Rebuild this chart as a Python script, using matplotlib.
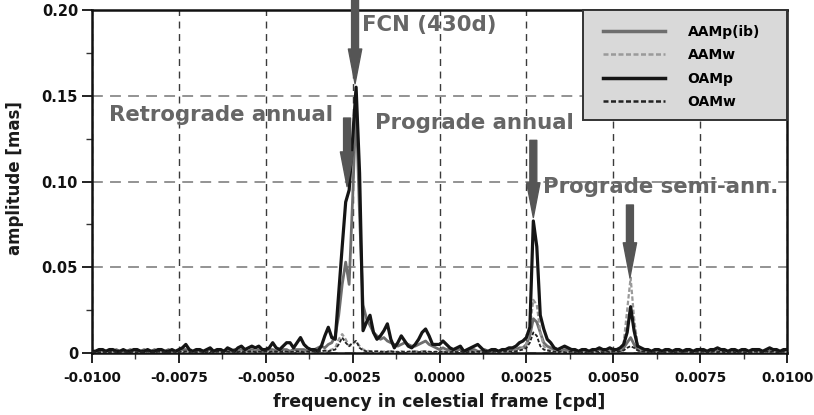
import numpy as np
import matplotlib
matplotlib.use("Agg")
import matplotlib.pyplot as plt
from matplotlib.ticker import MultipleLocator, FuncFormatter
from matplotlib.patches import Rectangle

plt.rcParams['font.family'] = ['DejaVu Sans']
plt.rcParams['font.weight'] = 'bold'
plt.rcParams['axes.unicode_minus'] = False

# frequency grid [cpd]
freq_start = -0.0100
freq_step = 0.0001
n_points = 201

OAMp = [
    0.001, 0.001, 0.002, 0.002, 0.001, 0.002, 0.002, 0.001, 0.001, 0.002,
    0.001, 0.001, 0.002, 0.002, 0.001, 0.001, 0.002, 0.001, 0.001, 0.002,
    0.002, 0.001, 0.001, 0.002, 0.001, 0.002, 0.003, 0.005, 0.002, 0.001,
    0.002, 0.002, 0.001, 0.002, 0.003, 0.001, 0.002, 0.002, 0.001, 0.003,
    0.002, 0.001, 0.003, 0.004, 0.002, 0.003, 0.004, 0.003, 0.004, 0.002,
    0.002, 0.003, 0.006, 0.003, 0.002, 0.004, 0.006, 0.006, 0.003, 0.006,
    0.009, 0.005, 0.003, 0.002, 0.002, 0.001, 0.004, 0.010, 0.015, 0.009,
    0.008, 0.035, 0.062, 0.088, 0.095, 0.125, 0.155, 0.105, 0.013, 0.018,
    0.022, 0.012, 0.008, 0.010, 0.013, 0.017, 0.008, 0.003, 0.006, 0.010,
    0.007, 0.004, 0.003, 0.005, 0.008, 0.012, 0.014, 0.010, 0.005, 0.005,
    0.005, 0.007, 0.005, 0.003, 0.002, 0.003, 0.004, 0.001, 0.002, 0.003,
    0.004, 0.005, 0.003, 0.001, 0.001, 0.002, 0.002, 0.001, 0.002, 0.002,
    0.003, 0.003, 0.004, 0.006, 0.007, 0.009, 0.015, 0.077, 0.062, 0.022,
    0.014, 0.008, 0.006, 0.003, 0.002, 0.003, 0.004, 0.003, 0.002, 0.002,
    0.001, 0.002, 0.002, 0.001, 0.002, 0.002, 0.003, 0.002, 0.002, 0.003,
    0.002, 0.002, 0.003, 0.005, 0.012, 0.027, 0.013, 0.004, 0.003, 0.002,
    0.002, 0.001, 0.002, 0.002, 0.001, 0.002, 0.002, 0.001, 0.002, 0.002,
    0.001, 0.002, 0.002, 0.001, 0.002, 0.002, 0.002, 0.001, 0.002, 0.002,
    0.003, 0.002, 0.002, 0.001, 0.002, 0.002, 0.001, 0.002, 0.002, 0.001,
    0.002, 0.002, 0.002, 0.001, 0.002, 0.003, 0.002, 0.002, 0.001, 0.002,
    0.002,
]

AAMp_ib = [
    0.001, 0.001, 0.001, 0.002, 0.001, 0.001, 0.001, 0.002, 0.001, 0.001,
    0.001, 0.002, 0.001, 0.001, 0.001, 0.002, 0.001, 0.001, 0.002, 0.001,
    0.001, 0.001, 0.002, 0.001, 0.001, 0.001, 0.002, 0.002, 0.001, 0.001,
    0.001, 0.002, 0.001, 0.001, 0.002, 0.001, 0.001, 0.002, 0.001, 0.001,
    0.001, 0.002, 0.001, 0.002, 0.001, 0.001, 0.002, 0.001, 0.002, 0.001,
    0.001, 0.002, 0.002, 0.001, 0.001, 0.002, 0.002, 0.001, 0.002, 0.002,
    0.002, 0.002, 0.001, 0.002, 0.002, 0.003, 0.004, 0.003, 0.005, 0.006,
    0.010, 0.022, 0.040, 0.053, 0.040, 0.090, 0.145, 0.080, 0.028, 0.020,
    0.016, 0.012, 0.010, 0.008, 0.009, 0.007, 0.006, 0.005, 0.004, 0.005,
    0.006, 0.005, 0.004, 0.004, 0.005, 0.006, 0.007, 0.005, 0.004, 0.003,
    0.002, 0.003, 0.002, 0.002, 0.001, 0.002, 0.002, 0.001, 0.001, 0.002,
    0.002, 0.001, 0.001, 0.002, 0.001, 0.001, 0.002, 0.001, 0.001, 0.002,
    0.002, 0.002, 0.002, 0.003, 0.003, 0.005, 0.010, 0.020, 0.018, 0.012,
    0.006, 0.004, 0.003, 0.002, 0.002, 0.001, 0.002, 0.002, 0.001, 0.001,
    0.001, 0.001, 0.002, 0.001, 0.001, 0.001, 0.002, 0.001, 0.001, 0.001,
    0.001, 0.002, 0.001, 0.003, 0.006, 0.009, 0.005, 0.002, 0.001, 0.001,
    0.001, 0.001, 0.001, 0.002, 0.001, 0.001, 0.001, 0.001, 0.001, 0.001,
    0.001, 0.001, 0.001, 0.001, 0.001, 0.001, 0.001, 0.001, 0.001, 0.001,
    0.001, 0.001, 0.001, 0.001, 0.001, 0.001, 0.001, 0.001, 0.001, 0.001,
    0.001, 0.001, 0.001, 0.001, 0.001, 0.001, 0.001, 0.001, 0.001, 0.001,
    0.001,
]

AAMw = [
    0.0005, 0.0005, 0.0008, 0.0005, 0.0005, 0.0008, 0.0005, 0.0005, 0.0008, 0.0005,
    0.0005, 0.0008, 0.0005, 0.0005, 0.0008, 0.0005, 0.0005, 0.0008, 0.0005, 0.0005,
    0.0008, 0.0005, 0.0005, 0.0008, 0.0005, 0.0005, 0.0008, 0.0010, 0.0005, 0.0005,
    0.0008, 0.0005, 0.0005, 0.0008, 0.0005, 0.0005, 0.0008, 0.0005, 0.0005, 0.0008,
    0.0005, 0.0008, 0.0005, 0.0010, 0.0005, 0.0008, 0.0010, 0.0005, 0.0008, 0.0005,
    0.0005, 0.0008, 0.0010, 0.0005, 0.0008, 0.0010, 0.0008, 0.0005, 0.0010, 0.0008,
    0.0010, 0.0008, 0.0005, 0.0008, 0.0010, 0.0010, 0.0015, 0.0010, 0.0015, 0.0020,
    0.0030, 0.0080, 0.0110, 0.0080, 0.0040, 0.0050, 0.0070, 0.0040, 0.0020, 0.0015,
    0.0010, 0.0010, 0.0008, 0.0010, 0.0008, 0.0010, 0.0008, 0.0005, 0.0008, 0.0010,
    0.0008, 0.0005, 0.0008, 0.0010, 0.0008, 0.0010, 0.0008, 0.0005, 0.0008, 0.0005,
    0.0005, 0.0008, 0.0005, 0.0005, 0.0008, 0.0005, 0.0005, 0.0008, 0.0005, 0.0005,
    0.0008, 0.0005, 0.0005, 0.0008, 0.0005, 0.0005, 0.0008, 0.0005, 0.0008, 0.0010,
    0.0010, 0.0010, 0.0015, 0.0020, 0.0030, 0.0050, 0.0150, 0.0310, 0.0280, 0.0120,
    0.0040, 0.0020, 0.0015, 0.0010, 0.0008, 0.0005, 0.0008, 0.0005, 0.0005, 0.0008,
    0.0005, 0.0005, 0.0008, 0.0005, 0.0005, 0.0008, 0.0005, 0.0008, 0.0005, 0.0010,
    0.0010, 0.0010, 0.0015, 0.0060, 0.0250, 0.0440, 0.0200, 0.0050, 0.0015, 0.0010,
    0.0008, 0.0005, 0.0005, 0.0008, 0.0005, 0.0005, 0.0008, 0.0005, 0.0005, 0.0008,
    0.0005, 0.0005, 0.0008, 0.0005, 0.0005, 0.0008, 0.0005, 0.0005, 0.0008, 0.0005,
    0.0005, 0.0008, 0.0005, 0.0005, 0.0008, 0.0005, 0.0005, 0.0008, 0.0005, 0.0005,
    0.0008, 0.0005, 0.0005, 0.0008, 0.0005, 0.0005, 0.0008, 0.0005, 0.0005, 0.0008,
    0.0005,
]

OAMw = [
    0.0005, 0.0008, 0.0005, 0.0005, 0.0008, 0.0005, 0.0008, 0.0005, 0.0005, 0.0008,
    0.0005, 0.0008, 0.0005, 0.0005, 0.0008, 0.0005, 0.0008, 0.0005, 0.0005, 0.0008,
    0.0005, 0.0008, 0.0005, 0.0005, 0.0008, 0.0005, 0.0008, 0.0010, 0.0005, 0.0008,
    0.0005, 0.0008, 0.0005, 0.0005, 0.0008, 0.0005, 0.0008, 0.0005, 0.0005, 0.0008,
    0.0005, 0.0008, 0.0005, 0.0010, 0.0005, 0.0008, 0.0010, 0.0005, 0.0008, 0.0005,
    0.0008, 0.0005, 0.0010, 0.0008, 0.0005, 0.0010, 0.0008, 0.0005, 0.0008, 0.0010,
    0.0008, 0.0005, 0.0008, 0.0010, 0.0008, 0.0010, 0.0010, 0.0015, 0.0010, 0.0015,
    0.0020, 0.0050, 0.0090, 0.0060, 0.0040, 0.0060, 0.0070, 0.0030, 0.0015, 0.0010,
    0.0010, 0.0008, 0.0010, 0.0008, 0.0005, 0.0008, 0.0010, 0.0008, 0.0005, 0.0008,
    0.0005, 0.0008, 0.0010, 0.0008, 0.0005, 0.0008, 0.0010, 0.0008, 0.0005, 0.0008,
    0.0005, 0.0008, 0.0005, 0.0005, 0.0008, 0.0005, 0.0008, 0.0005, 0.0005, 0.0008,
    0.0005, 0.0008, 0.0005, 0.0005, 0.0008, 0.0005, 0.0008, 0.0005, 0.0008, 0.0010,
    0.0010, 0.0008, 0.0010, 0.0015, 0.0020, 0.0030, 0.0060, 0.0120, 0.0100, 0.0040,
    0.0020, 0.0015, 0.0010, 0.0008, 0.0005, 0.0008, 0.0005, 0.0005, 0.0008, 0.0005,
    0.0008, 0.0005, 0.0005, 0.0008, 0.0005, 0.0008, 0.0005, 0.0005, 0.0008, 0.0005,
    0.0008, 0.0010, 0.0010, 0.0015, 0.0030, 0.0040, 0.0030, 0.0015, 0.0010, 0.0008,
    0.0005, 0.0008, 0.0005, 0.0005, 0.0008, 0.0005, 0.0008, 0.0005, 0.0005, 0.0008,
    0.0005, 0.0008, 0.0005, 0.0005, 0.0008, 0.0005, 0.0008, 0.0005, 0.0005, 0.0008,
    0.0005, 0.0008, 0.0005, 0.0005, 0.0008, 0.0005, 0.0008, 0.0005, 0.0005, 0.0008,
    0.0005, 0.0008, 0.0005, 0.0005, 0.0008, 0.0005, 0.0008, 0.0005, 0.0005, 0.0008,
    0.0005,
]

series_labels = ['AAMp(ib)', 'AAMw', 'OAMp', 'OAMw']

# annotations: (text, x, y)
labels_text = ['FCN (430d)', 'Retrograde annual', 'Prograde annual', 'Prograde semi-ann.']
labels_x = [-0.00223, -0.00951, -0.00185, 0.00298]
labels_y = [0.1913, 0.1388, 0.1341, 0.0968]

# arrows: (x, y_tail, y_tip)
arrow_x = [-0.00243, -0.00266, 0.00270, 0.00548]
arrow_tail = [0.2060, 0.1370, 0.1240, 0.0863]
arrow_tip = [0.1570, 0.0970, 0.0790, 0.0440]

xticks = [-0.0100, -0.0075, -0.0050, -0.0025, 0.0000, 0.0025, 0.0050, 0.0075, 0.0100]
yticks = [0, 0.05, 0.10, 0.15, 0.20]

freq = freq_start + freq_step * np.arange(n_points)

fig = plt.figure(figsize=(8.14, 4.15), dpi=100)
ax = fig.add_axes([92 / 814, 62 / 415, 695 / 814, 343 / 415])

l1, = ax.plot(freq, AAMp_ib, color='#6e6e6e', lw=2.0, zorder=3)
l2, = ax.plot(freq, AAMw, color='#9a9a9a', lw=1.6, ls=(0, (2, 1)), zorder=4)
l3, = ax.plot(freq, OAMp, color='#151515', lw=2.3, zorder=5)
l4, = ax.plot(freq, OAMw, color='#222222', lw=1.3, ls=(0, (2, 1)), zorder=6)

ax.set_xlim(-0.0100, 0.0100)
ax.set_ylim(0, 0.20)
ax.set_xticks(xticks)
ax.set_yticks(yticks)
ax.xaxis.set_minor_locator(MultipleLocator(0.00125))
ax.yaxis.set_minor_locator(MultipleLocator(0.025))
ax.xaxis.set_major_formatter(FuncFormatter(lambda v, p: '%.4f' % v if abs(v) > 1e-9 else '0.0000'))
ax.yaxis.set_major_formatter(FuncFormatter(lambda v, p: '0' if abs(v) < 1e-9 else '%.2f' % v))

ax.tick_params(axis='both', which='major', direction='out', length=7, width=1.3,
               colors='#111111')
ax.tick_params(axis='both', which='minor', direction='out', length=4, width=1.0,
               colors='#333333')
ax.tick_params(axis='x', which='major', labelsize=9.8, pad=6)
ax.tick_params(axis='y', which='major', labelsize=10.5, pad=3)
for lab in ax.get_xticklabels() + ax.get_yticklabels():
    lab.set_fontweight('bold')

ax.set_axisbelow(True)
ax.xaxis.grid(True, which='major', color='#3a3a3a', ls=(0, (5, 4)), lw=1.0)
ax.yaxis.grid(True, which='major', color='#8a8a8a', ls=(0, (6, 4)), lw=1.3)

for sp in ax.spines.values():
    sp.set_linewidth(1.8)
    sp.set_color('#111111')

ax.set_xlabel('frequency in celestial frame [cpd]', fontsize=12.5, fontweight='bold',
              color='#1a1a1a', va='center')
ax.xaxis.set_label_coords(0.5, (353 - 402) / 343)
ax.set_ylabel('amplitude [mas]', fontsize=12, fontweight='bold', color='#1a1a1a',
              va='center')
ax.yaxis.set_label_coords((15 - 92) / 695, 0.51)

for t, x, y in zip(labels_text, labels_x, labels_y):
    ax.text(x, y, t, fontsize=15.3, fontweight='bold', color='#666666',
            ha='left', va='center', zorder=7)

for x, yt, yh in zip(arrow_x, arrow_tail, arrow_tip):
    ax.annotate('', xy=(x, yh), xytext=(x, yt), annotation_clip=False,
                arrowprops=dict(arrowstyle='simple,head_length=1.25,head_width=0.48,tail_width=0.25',
                                mutation_scale=20, color='#555555', shrinkA=0, shrinkB=0),
                zorder=8)

# legend box (drawn as a rectangle in axes coordinates)
box_x0 = (583 - 92) / 695
box_y0 = (353 - 120) / 343
ax.add_patch(Rectangle((box_x0, box_y0), 1 - box_x0, 1 - box_y0, transform=ax.transAxes,
                       facecolor='#d9d9d9', edgecolor='#333333', lw=1.4,
                       zorder=9, clip_on=False))

leg = ax.legend([l1, l2, l3, l4], series_labels, loc='upper left',
                bbox_to_anchor=((589 - 92) / 695, (353 - 11) / 343), borderaxespad=0,
                frameon=False, prop={'weight': 'bold', 'size': 10}, handlelength=4.5,
                handletextpad=1.6, labelspacing=0.68, borderpad=1.0)
leg.set_zorder(10)
for h in leg.get_lines():
    h.set_linewidth(2.5 if h.get_linestyle() == '-' else 1.8)

fig.savefig('out.png', dpi=100)
